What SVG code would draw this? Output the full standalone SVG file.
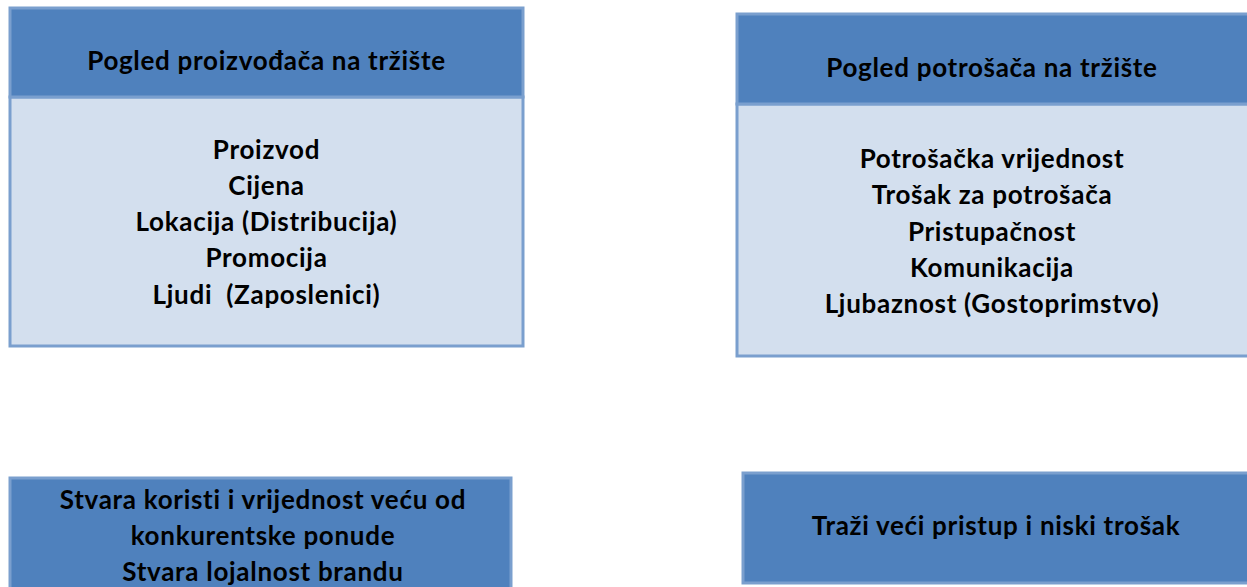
<svg xmlns="http://www.w3.org/2000/svg" width="1247" height="587" viewBox="0 0 1247 587">
<style>
.hdr{fill:#4f81bd;stroke:#7a9fce;stroke-width:3}
.body{fill:#d3dfee;stroke:#7a9fce;stroke-width:3}
text{font-family:Lato,"Open Sans","Liberation Sans",sans-serif;font-weight:bold;font-size:26px;letter-spacing:0.7px;fill:#000;text-anchor:middle;white-space:pre}
</style>
<rect width="1247" height="587" fill="#fff"/>
<g id="producer">
<rect class="body" x="10" y="97" width="513" height="249"/>
<rect class="hdr" x="10" y="8" width="513" height="89"/>
<text x="266.5" y="70">Pogled proizvođača na tržište</text>
<text x="266.5" y="159">Proizvod</text>
<text x="266.5" y="195">Cijena</text>
<text x="266.5" y="231">Lokacija (Distribucija)</text>
<text x="266.5" y="267">Promocija</text>
<text x="266.5" y="304" xml:space="preserve">Ljudi  (Zaposlenici)</text>
</g>
<g id="consumer">
<rect class="body" x="737" y="104" width="512" height="252"/>
<rect class="hdr" x="737" y="14" width="512" height="90"/>
<text x="992" y="77">Pogled potrošača na tržište</text>
<text x="992" y="168">Potrošačka vrijednost</text>
<text x="992" y="204">Trošak za potrošača</text>
<text x="992" y="241">Pristupačnost</text>
<text x="992" y="277">Komunikacija</text>
<text x="992" y="313">Ljubaznost (Gostoprimstvo)</text>
</g>
<g id="producer-goal">
<rect class="hdr" x="10" y="478" width="501" height="112"/>
<text x="263" y="509">Stvara koristi i vrijednost veću od</text>
<text x="263" y="545">konkurentske ponude</text>
<text x="263" y="581">Stvara lojalnost brandu</text>
</g>
<g id="consumer-goal">
<rect class="hdr" x="743" y="473" width="506" height="110"/>
<text x="996" y="535">Traži veći pristup i niski trošak</text>
</g>
<g id="connectors"></g>
</svg>
